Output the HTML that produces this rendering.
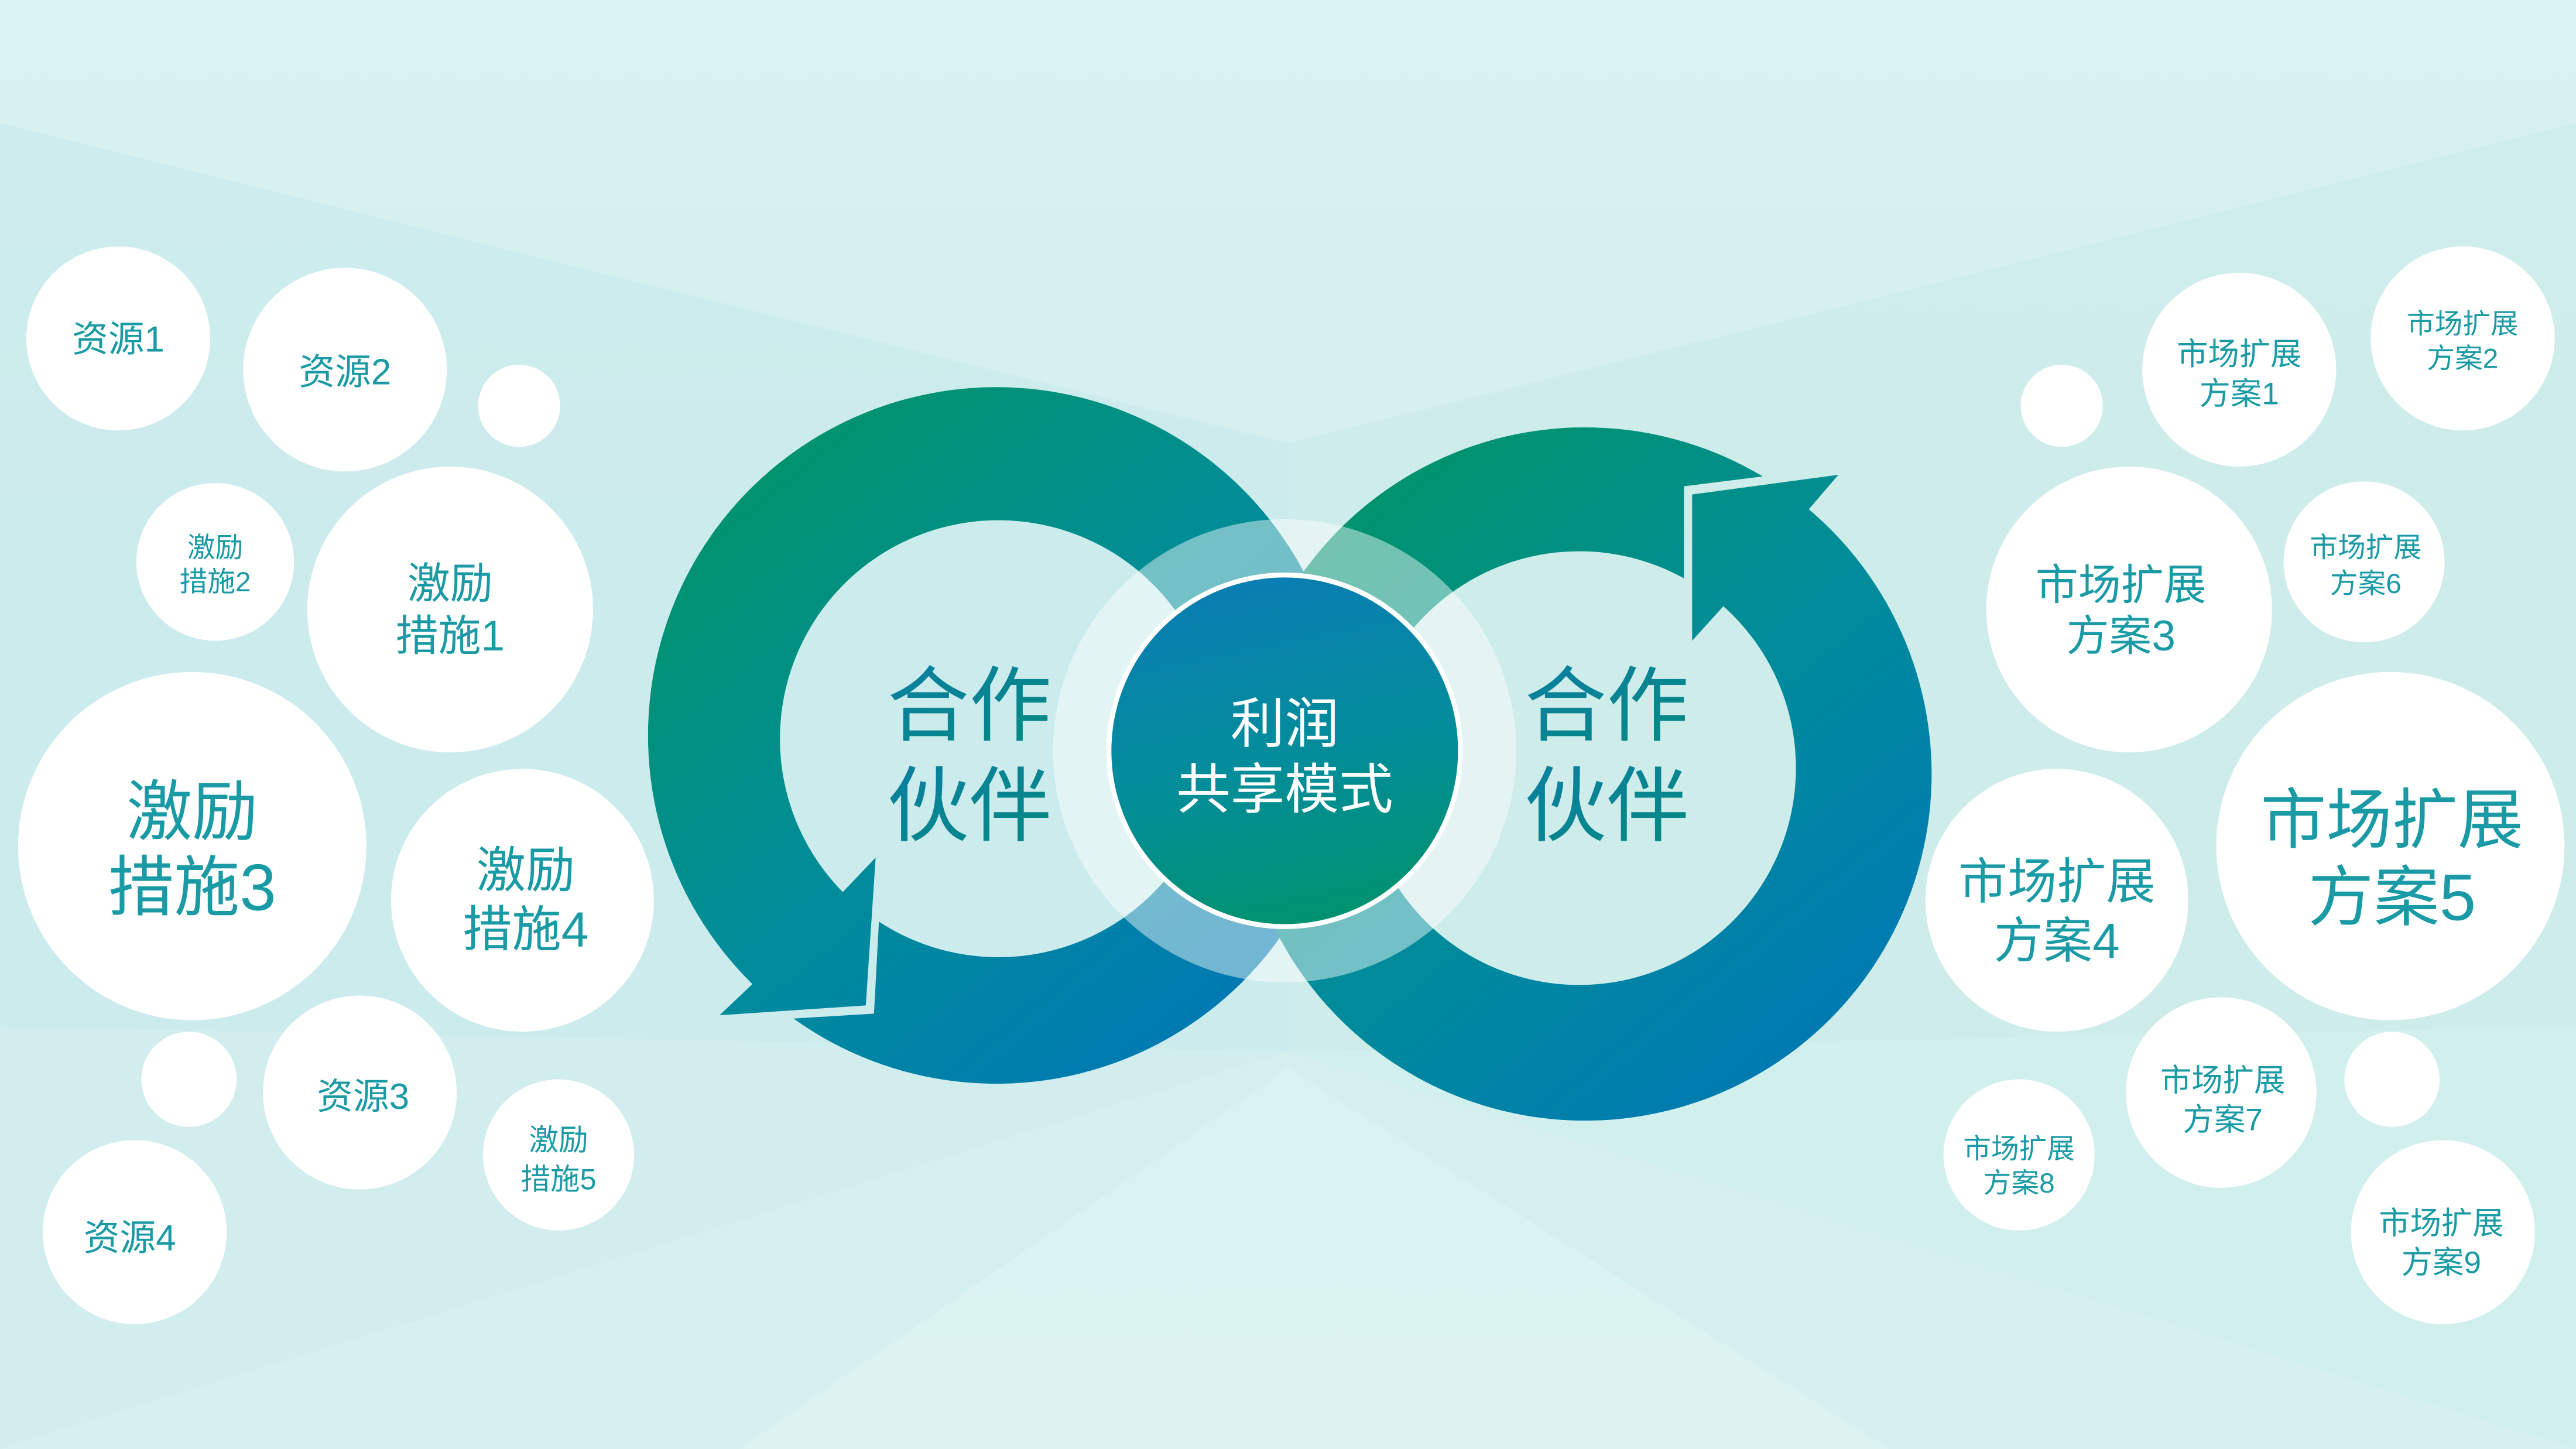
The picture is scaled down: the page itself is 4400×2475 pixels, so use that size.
<!DOCTYPE html>
<html><head><meta charset="utf-8"><style>
html,body{margin:0;padding:0;width:4400px;height:2475px;overflow:hidden;background:#d6eff0}
svg{display:block}
text{font-family:"Liberation Sans","Noto Sans CJK SC",sans-serif;text-anchor:middle}
.b{fill:#1a9aa4}
</style></head><body>
<svg width="4400" height="2475" viewBox="0 0 1568 882" preserveAspectRatio="none" xmlns="http://www.w3.org/2000/svg">
<defs>
<linearGradient id="bg" x1="0" y1="0" x2="0" y2="1">
<stop offset="0" stop-color="#d8f1f1"/><stop offset="0.5" stop-color="#d3eeee"/><stop offset="1" stop-color="#d5f0ee"/></linearGradient>
<linearGradient id="rg" x1="0.2" y1="0.1" x2="0.85" y2="0.9">
<stop offset="0" stop-color="#00936e"/><stop offset="0.5" stop-color="#008c9a"/><stop offset="1" stop-color="#0079b2"/></linearGradient>
<linearGradient id="cg" x1="0.3" y1="0" x2="0.5" y2="1">
<stop offset="0" stop-color="#0a7db4"/><stop offset="0.55" stop-color="#038d9a"/><stop offset="1" stop-color="#00926f"/></linearGradient>
<linearGradient id="tg" x1="0" y1="0" x2="1" y2="1">
<stop offset="0" stop-color="#0b7fa2"/><stop offset="1" stop-color="#048a80"/></linearGradient>
</defs>
<rect width="1568" height="882" fill="url(#bg)"/>
<polygon points="0,75 784,270 784,640 0,625" fill="#c3e6e9" opacity="0.45"/>
<polygon points="1568,75 784,270 784,640 1568,625" fill="#c6e9e5" opacity="0.45"/>
<polygon points="0,625 784,640 0,882" fill="#c9e8ea" opacity="0.3"/>
<polygon points="1568,625 784,640 1568,882" fill="#cbede8" opacity="0.3"/>
<polygon points="450,882 784,650 1150,882" fill="#e3f5f4" opacity="0.4"/>

<!-- left ring -->
<path fill="url(#rg)" d="M483,620 L532,617 L535,561 A133 133 0 1 0 513,543 L533,522 L527,612 L438,618 L458,599 A212 212 0 1 1 483,620 Z"/>
<!-- right ring -->
<path fill="url(#rg)" d="M1073,290 L1025,296 L1025,352 A132 132 0 1 0 1049,369 L1030,390 L1030,301 L1119,289 L1101,310 A211 211 0 1 1 1073,290 Z"/>

<!-- halo -->
<circle cx="782" cy="457" r="124" fill="none" stroke="#ffffff" stroke-opacity="0.45" stroke-width="34"/>
<circle cx="782" cy="457" r="107" fill="url(#cg)" stroke="#ffffff" stroke-width="3"/>
<text x="782" y="452" font-size="33" fill="#fff">利润</text>
<text x="782" y="492" font-size="33" fill="#fff">共享模式</text>

<text x="590" y="447" font-size="50" fill="url(#tg)">合作</text>
<text x="590" y="508" font-size="50" fill="url(#tg)">伙伴</text>
<text x="978" y="447" font-size="50" fill="url(#tg)">合作</text>
<text x="978" y="508" font-size="50" fill="url(#tg)">伙伴</text>

<g fill="#fff">
<circle cx="72" cy="206" r="56"/><circle cx="210" cy="225" r="62"/><circle cx="316" cy="247" r="25"/>
<circle cx="131" cy="342" r="48"/><circle cx="274" cy="371" r="87"/><circle cx="117" cy="515" r="106"/>
<circle cx="318" cy="548" r="80"/><circle cx="115" cy="657" r="29"/><circle cx="219" cy="665" r="59"/>
<circle cx="340" cy="703" r="46"/><circle cx="82" cy="750" r="56"/>
<circle cx="1255" cy="247" r="25"/><circle cx="1363" cy="225" r="59"/><circle cx="1499" cy="206" r="56"/>
<circle cx="1296" cy="371" r="87"/><circle cx="1439" cy="342" r="49"/><circle cx="1455" cy="515" r="106"/>
<circle cx="1252" cy="548" r="80"/><circle cx="1352" cy="665" r="58"/><circle cx="1456" cy="657" r="29"/>
<circle cx="1229" cy="703" r="46"/><circle cx="1487" cy="750" r="56"/>
</g>
<g class="b">
<text x="72" y="214" font-size="22" class="b">资源1</text>
<text x="210" y="234" font-size="22" class="b">资源2</text>
<text x="131" y="339" font-size="17" class="b">激励</text><text x="131" y="360" font-size="17" class="b">措施2</text>
<text x="274" y="364" font-size="26" class="b">激励</text><text x="274" y="396" font-size="26" class="b">措施1</text>
<text x="117" y="508" font-size="40" class="b">激励</text><text x="117" y="554" font-size="40" class="b">措施3</text>
<text x="320" y="540" font-size="30" class="b">激励</text><text x="320" y="576" font-size="30" class="b">措施4</text>
<text x="221" y="675" font-size="22" class="b">资源3</text>
<text x="340" y="700" font-size="18" class="b">激励</text><text x="340" y="724" font-size="18" class="b">措施5</text>
<text x="79" y="761" font-size="22" class="b">资源4</text>
<text x="1363" y="222" font-size="19" class="b">市场扩展</text><text x="1363" y="246" font-size="19" class="b">方案1</text>
<text x="1499" y="203" font-size="17" class="b">市场扩展</text><text x="1499" y="224" font-size="17" class="b">方案2</text>
<text x="1291" y="365" font-size="26" class="b">市场扩展</text><text x="1291" y="396" font-size="26" class="b">方案3</text>
<text x="1440" y="339" font-size="17" class="b">市场扩展</text><text x="1440" y="361" font-size="17" class="b">方案6</text>
<text x="1456" y="513" font-size="40" class="b">市场扩展</text><text x="1456" y="560" font-size="40" class="b">方案5</text>
<text x="1252" y="547" font-size="30" class="b">市场扩展</text><text x="1252" y="583" font-size="30" class="b">方案4</text>
<text x="1353" y="664" font-size="19" class="b">市场扩展</text><text x="1353" y="688" font-size="19" class="b">方案7</text>
<text x="1229" y="705" font-size="17" class="b">市场扩展</text><text x="1229" y="726" font-size="17" class="b">方案8</text>
<text x="1486" y="751" font-size="19" class="b">市场扩展</text><text x="1486" y="775" font-size="19" class="b">方案9</text>
</g>
</svg>
</body></html>
